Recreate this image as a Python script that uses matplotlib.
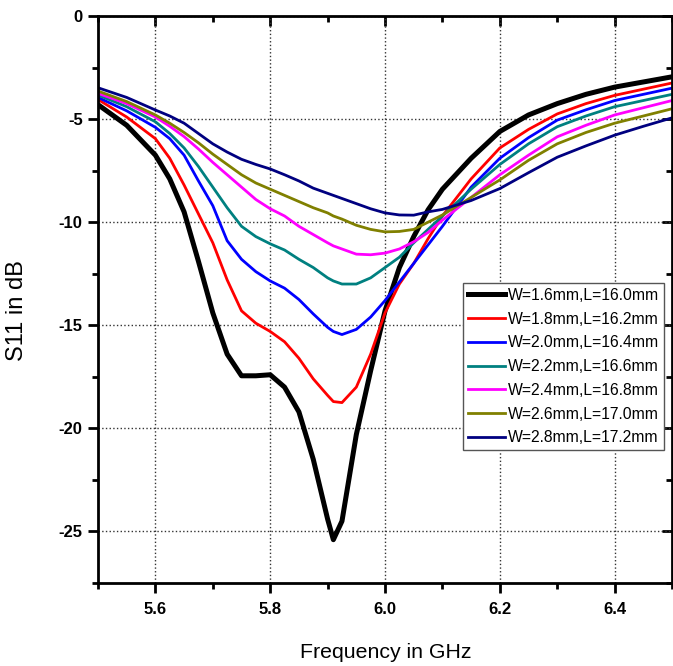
import matplotlib
matplotlib.use("Agg")
import matplotlib.pyplot as plt
from matplotlib.ticker import MultipleLocator

plt.rcParams['font.family'] = ['Liberation Sans', 'DejaVu Sans']

#### frequency points (GHz)
freq = [5.50, 5.55, 5.60, 5.625, 5.65, 5.675, 5.70, 5.725, 5.75, 5.775, 5.80, 5.825,
        5.85, 5.875, 5.90, 5.91, 5.925, 5.95, 5.975, 6.00, 6.025, 6.05,
        6.075, 6.10, 6.15, 6.20, 6.25, 6.30, 6.35, 6.40, 6.45, 6.50]

#### S11 (dB) for each patch size
s11_w16 = [-4.3, -5.3, -6.75, -7.9, -9.5, -11.9, -14.4, -16.4, -17.45, -17.45, -17.4, -18.0,
           -19.2, -21.5, -24.4, -25.4, -24.5, -20.3, -17.2, -14.3, -12.2, -10.7,
           -9.4, -8.4, -6.9, -5.6, -4.8, -4.25, -3.8, -3.45, -3.2, -2.95]
s11_w18 = [-4.05, -4.9, -5.95, -6.9, -8.2, -9.6, -11.0, -12.8, -14.3, -14.9, -15.3, -15.8,
           -16.6, -17.6, -18.4, -18.7, -18.75, -18.0, -16.4, -14.4, -13.0, -12.0,
           -10.8, -9.7, -7.9, -6.4, -5.5, -4.75, -4.25, -3.85, -3.55, -3.25]
s11_w20 = [-3.95, -4.6, -5.4, -5.95, -6.75, -8.0, -9.2, -10.9, -11.8, -12.4, -12.85, -13.2,
           -13.75, -14.45, -15.1, -15.3, -15.45, -15.2, -14.6, -13.8, -12.9, -12.0,
           -11.1, -10.2, -8.3, -6.9, -5.9, -5.05, -4.55, -4.1, -3.8, -3.5]
s11_w22 = [-3.83, -4.4, -5.13, -5.7, -6.4, -7.3, -8.3, -9.3, -10.2, -10.7, -11.05, -11.35,
           -11.8, -12.2, -12.7, -12.85, -13.0, -13.0, -12.7, -12.2, -11.7, -11.0,
           -10.35, -9.7, -8.4, -7.2, -6.2, -5.37, -4.85, -4.4, -4.1, -3.8]
s11_w24 = [-3.75, -4.25, -4.9, -5.35, -5.85, -6.45, -7.1, -7.7, -8.3, -8.9, -9.35, -9.7,
           -10.2, -10.6, -11.0, -11.15, -11.3, -11.55, -11.58, -11.5, -11.3, -10.95,
           -10.5, -9.9, -8.8, -7.7, -6.75, -5.86, -5.3, -4.8, -4.45, -4.1]
s11_w26 = [-3.64, -4.15, -4.8, -5.2, -5.65, -6.15, -6.7, -7.2, -7.7, -8.1, -8.4, -8.7,
           -9.0, -9.3, -9.55, -9.7, -9.85, -10.15, -10.35, -10.47, -10.45, -10.35,
           -10.0, -9.65, -8.8, -7.95, -7.0, -6.2, -5.65, -5.2, -4.85, -4.5]
s11_w28 = [-3.48, -3.95, -4.56, -4.85, -5.2, -5.7, -6.2, -6.6, -6.95, -7.2, -7.42, -7.7,
           -8.0, -8.35, -8.6, -8.7, -8.85, -9.1, -9.35, -9.55, -9.65, -9.66,
           -9.5, -9.38, -8.95, -8.37, -7.6, -6.85, -6.3, -5.78, -5.35, -4.94]

labels = ["W=1.6mm,L=16.0mm", "W=1.8mm,L=16.2mm", "W=2.0mm,L=16.4mm",
          "W=2.2mm,L=16.6mm", "W=2.4mm,L=16.8mm", "W=2.6mm,L=17.0mm",
          "W=2.8mm,L=17.2mm"]
series = [s11_w16, s11_w18, s11_w20, s11_w22, s11_w24, s11_w26, s11_w28]
colors = ["#000000", "#ff0000", "#0000ff", "#008080", "#ff00ff", "#808000", "#000080"]
widths = [3.6, 2.0, 2.0, 2.0, 2.0, 2.0, 2.0]

fig = plt.figure(figsize=(6.73, 6.66), dpi=100)
ax = fig.add_axes([0.1456, 0.1246, 0.853, 0.8514])

for y, lab, c, lw in zip(series, labels, colors, widths):
    ax.plot(freq, y, color=c, lw=lw, label=lab)

ax.set_xlim(5.5, 6.5)
ax.set_ylim(-27.5, 0)
ax.xaxis.set_minor_locator(MultipleLocator(0.1))
ax.yaxis.set_minor_locator(MultipleLocator(2.5))
ax.set_xticks([5.6, 5.8, 6.0, 6.2, 6.4])
ax.set_xticklabels(["5.6", "5.8", "6.0", "6.2", "6.4"])
ax.set_yticks([0, -5, -10, -15, -20, -25])
ax.set_yticklabels(["0", "-5", "-10", "-15", "-20", "-25"])
ax.grid(True, which='major', linestyle=':', color='#333333', lw=1.0)

for s in ax.spines.values():
    s.set_linewidth(2)
ax.tick_params(which='major', direction='out', length=7.5, width=2, labelsize=12)
ax.tick_params(axis='x', which='major', pad=6)
ax.tick_params(which='minor', direction='out', length=4.5, width=2)
for t in ax.get_xticklabels() + ax.get_yticklabels():
    t.set_fontweight('bold')

# mirrored ticks pointing inward on top and right
top = ax.secondary_xaxis('top')
top.xaxis.set_major_locator(MultipleLocator(0.2))
top.xaxis.set_minor_locator(MultipleLocator(0.1))
top.tick_params(which='major', direction='in', length=7, width=2, labeltop=False)
top.tick_params(which='minor', direction='in', length=4.5, width=2)
right = ax.secondary_yaxis('right')
right.yaxis.set_major_locator(MultipleLocator(5))
right.yaxis.set_minor_locator(MultipleLocator(2.5))
right.tick_params(which='major', direction='in', length=7, width=2, labelright=False)
right.tick_params(which='minor', direction='in', length=4.5, width=2)

ax.set_xlabel("Frequency in GHz", fontsize=15.3)
ax.set_ylabel("S11 in dB", fontsize=17)
ax.xaxis.set_label_coords(0.501, -0.106)
ax.yaxis.set_label_coords(-0.122, 0.48)

leg = ax.legend(loc='upper left', bbox_to_anchor=(0.636, 0.529), borderaxespad=0,
                fontsize=11.3, handlelength=2.35, handletextpad=0.2,
                labelspacing=0.56, borderpad=0.3, fancybox=False,
                framealpha=1, edgecolor='#555555')
leg.get_frame().set_linewidth(1.0)

fig.savefig("out.png", dpi=100)
